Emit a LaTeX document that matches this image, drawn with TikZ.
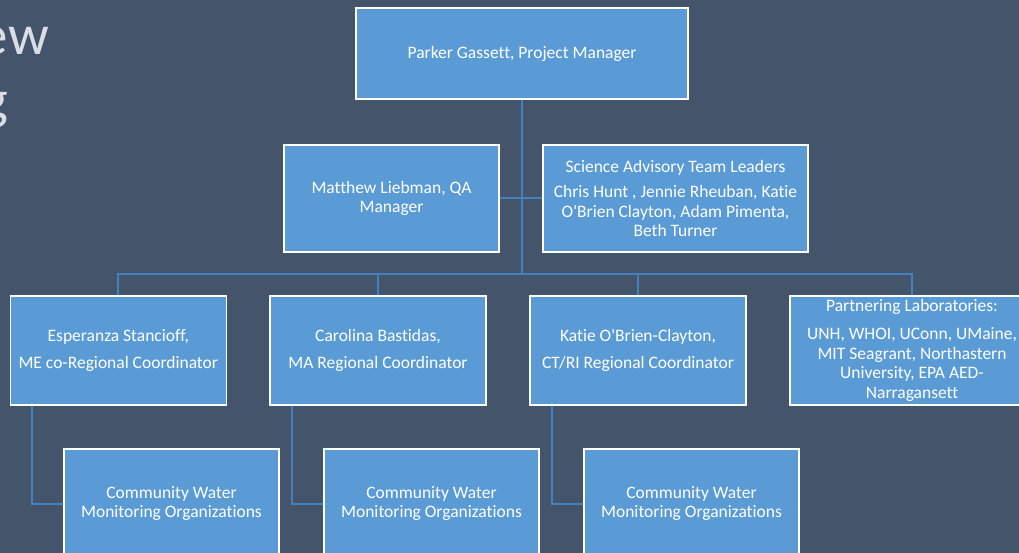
\documentclass[tikz,border=0pt]{standalone}
\usepackage{fontspec}
\setmainfont{Carlito}[Ligatures={TeXOff,CommonOff}]
\definecolor{bg}{HTML}{44546A}
\definecolor{boxblue}{HTML}{5B9BD5}
\definecolor{linkblue}{HTML}{4280BE}
\definecolor{titlegray}{HTML}{D9DEE6}
\tikzset{
  orgbox/.style={draw=white, line width=1.5pt, fill=boxblue, text=white, align=center,
    font=\fontsize{17.5}{19.5}\selectfont, inner sep=2pt},
  link/.style={draw=linkblue, line width=2pt},
  titletext/.style={text=titlegray, font=\fontsize{57}{57}\selectfont, inner sep=0pt}
}
\begin{document}
\begin{tikzpicture}[x=1pt,y=-1pt]
\fill[bg] (0,0) rectangle (1019,553);
\clip (0,0) rectangle (1019,553);
\node[titletext, anchor=base east] (t1) at (49,55) {ew};
\node[titletext, anchor=base east] (t2) at (9,119) {g};

\node[orgbox, minimum width=332pt, minimum height=91pt] (top) at (522,53.5) {Parker Gassett, Project Manager};
\node[orgbox, minimum width=215pt, minimum height=107pt] (matt) at (391.5,198.5) {Matthew Liebman, QA\\Manager};
\node[orgbox, minimum width=265pt, minimum height=107pt] (sci) at (675.5,198.5) {Science Advisory Team Leaders\\[6pt]Chris Hunt , Jennie Rheuban, Katie\\O'Brien Clayton, Adam Pimenta,\\Beth Turner};

\node[orgbox, minimum width=216pt, minimum height=109pt] (esp) at (118.3,350.5) {Esperanza Stancioff,\\[7.5pt]ME co-Regional Coordinator};
\node[orgbox, minimum width=216pt, minimum height=109pt] (car) at (378,350.5) {Carolina Bastidas,\\[7.5pt]MA Regional Coordinator};
\node[orgbox, minimum width=216pt, minimum height=109pt] (kat) at (638,350.5) {Katie O'Brien-Clayton,\\[7.5pt]CT/RI Regional Coordinator};
\node[orgbox, minimum width=244pt, minimum height=109pt] (part) at (912,350.5) {Partnering Laboratories:\\[8.5pt]UNH, WHOI, UConn, UMaine,\\MIT Seagrant, Northastern\\University, EPA AED-\\Narragansett};

\node[orgbox, minimum width=215pt, minimum height=109pt] (c1) at (171.5,503.5) {Community Water\\Monitoring Organizations};
\node[orgbox, minimum width=215pt, minimum height=109pt] (c2) at (431.5,503.5) {Community Water\\Monitoring Organizations};
\node[orgbox, minimum width=215pt, minimum height=109pt] (c3) at (691.5,503.5) {Community Water\\Monitoring Organizations};

\coordinate (j) at (522,274);
\draw[link] (top.south) -- (j);
\draw[link] (matt.east) -- (sci.west);
\draw[link] (esp.north) -- (esp.north |- j) -| (part.north);
\draw[link] (car.north) -- (car.north |- j);
\draw[link] (kat.north) -- (kat.north |- j);
\draw[link] ([xshift=-86pt]esp.south) |- (c1.west);
\draw[link] ([xshift=-86pt]car.south) |- (c2.west);
\draw[link] ([xshift=-86pt]kat.south) |- (c3.west);
\end{tikzpicture}
\end{document}
